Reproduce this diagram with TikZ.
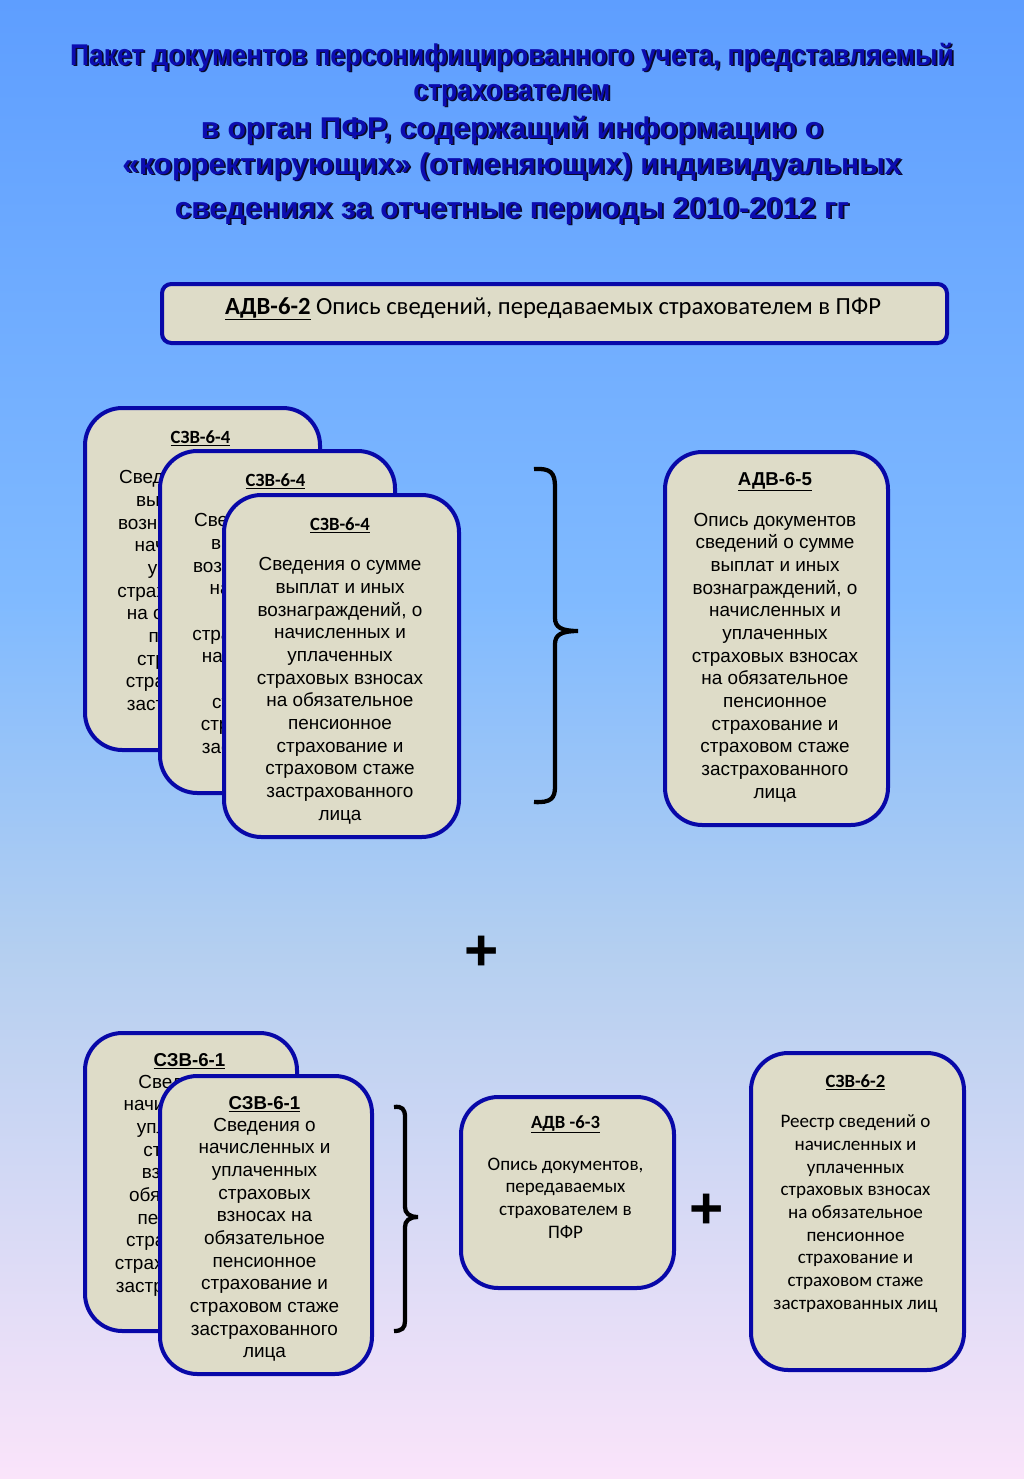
\documentclass[tikz,border=0pt]{standalone}
\usepackage{fontspec}
\setmainfont{Liberation Sans}
\newfontfamily\calib{Carlito}
\newfontfamily\narrowbf[FakeStretch=0.88]{Liberation Sans}
\definecolor{bgA}{RGB}{94,158,255}
\definecolor{bgB}{RGB}{128,186,255}
\definecolor{bgC}{RGB}{180,207,240}
\definecolor{bgD}{RGB}{250,228,250}
\definecolor{cfill}{RGB}{222,220,200}
\definecolor{bcol}{RGB}{8,8,168}
\definecolor{navy}{RGB}{12,12,175}
\definecolor{shcol}{RGB}{10,10,40}
\newcommand\px[1]{#1*0.75pt}
\begin{document}
\begin{tikzpicture}[x=0.75pt,y=-0.75pt,
  card/.style={draw=bcol, line width=3pt, fill=cfill, rounded corners=28pt, inner sep=0pt, anchor=north west},
  head/.style={anchor=base, inner sep=0pt, font=\fontsize{14}{17}\selectfont\bfseries},
  chead/.style={anchor=base, inner sep=0pt, font=\fontsize{14}{17}\selectfont\calib\bfseries},
  body/.style={anchor=base, align=center, inner sep=0pt, font=\fontsize{14.2}{17}\selectfont},
  cbody/.style={anchor=base, align=center, inner sep=0pt, font=\fontsize{14.3}{17}\selectfont\calib},
  ttl/.style={anchor=base, inner sep=0pt, text=navy, font=\fontsize{22.5}{26}\selectfont\bfseries},
  ttlsh/.style={ttl, text=shcol, xshift=1.3pt, yshift=-1.3pt},
  brace/.style={line width=3.2pt, black},
  plus/.style={anchor=base, inner sep=0pt, font=\fontsize{44}{50}\selectfont\bfseries}
]
\useasboundingbox (0,0) rectangle (1024,1479);
% background
\shade[top color=bgA, bottom color=bgB] (0,0) rectangle (1024,602);
\shade[top color=bgB, bottom color=bgC] (0,600) rectangle (1024,952);
\shade[top color=bgC, bottom color=bgD] (0,950) rectangle (1024,1479);

% title
\newcommand\ttline[4]{%
  \node[ttlsh] at (#2,#3) {#4};
  \node[ttl] (#1) at (#2,#3) {#4};}
\ttline{t1}{512}{65}{\narrowbf Пакет документов персонифицированного учета, представляемый}
\ttline{t2}{512}{100}{\narrowbf страхователем}
\ttline{t3}{512}{138}{в орган ПФР, содержащий информацию о}
\ttline{t4}{512}{174}{«корректирующих» (отменяющих) индивидуальных}
\ttline{t5}{512}{218}{сведениях за отчетные периоды 2010-2012 гг}

% ADV-6-2
\node[card, rounded corners=7pt, minimum width=\px{785}, minimum height=\px{59}] (adv62) at (160,282) {};
\node[anchor=base, inner sep=0pt, font=\fontsize{18.5}{22}\selectfont\calib] (adv62t) at (553,314)
  {\underline{\textbf{АДВ-6-2}} Опись сведений, передаваемых страхователем в ПФР};

% SZV-6-4 stack (body anchored at the baseline of its last line)
\newcommand\szvfour[4]{% name, left, top, center
  \node[card, minimum width=\px{235}, minimum height=\px{342}] (#1) at (#2,#3) {};
  \node[chead] (#1h) at (#4,#3+37) {\underline{СЗВ-6-4}};
  \node[body] (#1b) at (#4,#3+78+249.3) {Сведения о сумме\\выплат и иных\\вознаграждений, о\\начисленных и\\уплаченных\\страховых взносах\\на обязательное\\пенсионное\\страхование и\\страховом стаже\\застрахованного\\лица};}
\szvfour{za}{83}{406}{200.5}
\szvfour{zb}{158}{449}{275.5}
\szvfour{zc}{222}{493}{340}

% brace 1
\draw[brace] (534,469) .. controls (551,468) and (555,473) .. (555,487) -- (555,618)
  .. controls (555,627) and (561,631) .. (578,631)
  .. controls (561,631) and (555,635) .. (555,644) -- (555,787)
  .. controls (555,798) and (551,803) .. (534,802);

% ADV-6-5
\node[card, minimum width=\px{223}, minimum height=\px{373}] (adv65) at (663,450) {};
\node[head] (adv65h) at (775,485) {\underline{АДВ-6-5}};
\node[body] (adv65b) at (775,798) {Опись документов\\сведений о сумме\\выплат и иных\\вознаграждений, о\\начисленных и\\уплаченных\\страховых взносах\\на обязательное\\пенсионное\\страхование и\\страховом стаже\\застрахованного\\лица};

% plus 1
\node[plus] (plus1) at (482,970) {+};

% SZV-6-1 stack
\newcommand\szvone[4]{%
  \node[card, minimum width=\px{212}, minimum height=\px{298}] (#1) at (#2,#3) {};
  \node[head] (#1h) at (#4,#3+35) {\underline{СЗВ-6-1}};
  \node[body] (#1b) at (#4,#3+57+226.7) {Сведения о\\начисленных и\\уплаченных\\страховых\\взносах на\\обязательное\\пенсионное\\страхование и\\страховом стаже\\застрахованного\\лица};}
\szvone{sa}{83}{1031}{189.5}
\szvone{sb}{158}{1074}{264.5}

% brace 2
\draw[brace] (394,1107) .. controls (402,1106) and (405,1109) .. (405,1117) -- (405,1207)
  .. controls (405,1213) and (409,1217) .. (418,1217)
  .. controls (409,1217) and (405,1221) .. (405,1227) -- (405,1321)
  .. controls (405,1328) and (402,1331) .. (394,1331);

% ADV-6-3
\node[card, minimum width=\px{213}, minimum height=\px{191}] (adv63) at (459,1095) {};
\node[chead] (adv63h) at (565.5,1128) {\underline{АДВ -6-3}};
\node[cbody] (adv63b) at (565.5,1238) {Опись документов,\\передаваемых\\страхователем в\\ПФР};

% plus 2
\node[plus] (plus2) at (707,1228) {+};

% SZV-6-2
\node[card, minimum width=\px{213}, minimum height=\px{317}] (szv62) at (749,1051) {};
\node[chead] (szv62h) at (855.5,1087) {\underline{СЗВ-6-2}};
\node[cbody] (szv62b) at (855.5,1309) {Реестр сведений о\\начисленных и\\уплаченных\\страховых взносах\\на обязательное\\пенсионное\\страхование и\\страховом стаже\\застрахованных лиц};
\end{tikzpicture}
\end{document}
